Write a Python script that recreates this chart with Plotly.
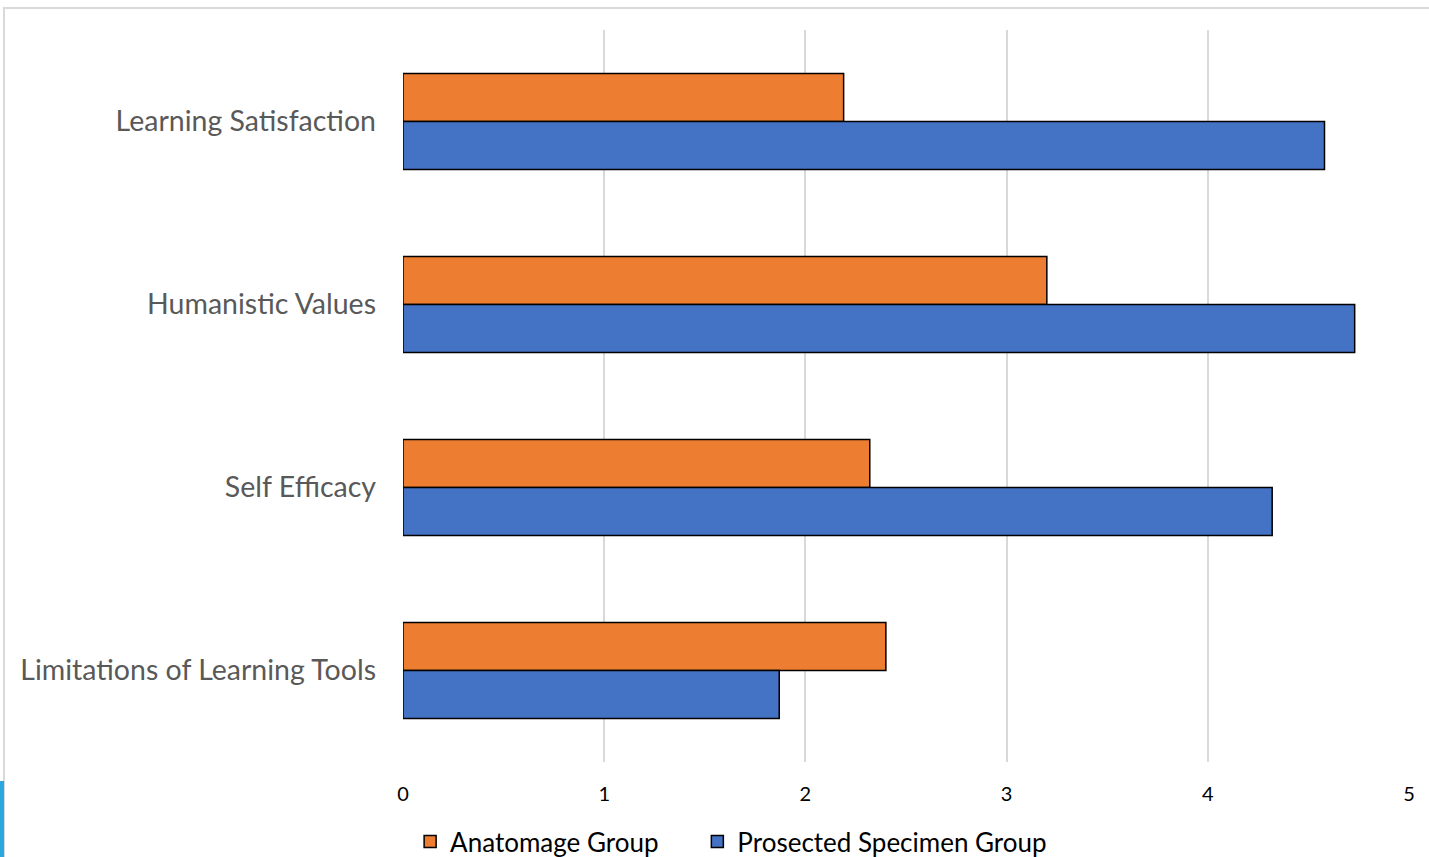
import plotly.graph_objects as go

categories = ["Learning Satisfaction", "Humanistic Values", "Self Efficacy", "Limitations of Learning Tools"]
anatomage = [2.19, 3.20, 2.32, 2.40]
prosected = [4.58, 4.73, 4.32, 1.87]
series_names = ["Anatomage Group", "Prosected Specimen Group"]
x_ticks = [0, 1, 2, 3, 4, 5]

W, H = 1429, 857
ML, MR, MT, MB = 403, 20, 30, 95
PW, PH = W - ML - MR, H - MT - MB

def px_x(p):
    return (p - ML) / PW

def px_y(p):
    return 1 - (p - MT) / PH

fig = go.Figure()
fig.add_trace(go.Bar(y=categories, x=anatomage, orientation="h", name=series_names[0],
                     legend="legend",
                     marker=dict(color="#ED7D31", line=dict(color="#000000", width=1.5))))
fig.add_trace(go.Bar(y=categories, x=prosected, orientation="h", name=series_names[1],
                     legend="legend2",
                     marker=dict(color="#4472C4", line=dict(color="#000000", width=1.5))))

legend_font = dict(family="Lato, Carlito, Calibri, sans-serif", size=26, color="#000000")
fig.update_layout(
    width=W, height=H,
    margin=dict(l=ML, r=MR, t=MT, b=MB),
    paper_bgcolor="white", plot_bgcolor="white",
    barmode="group", bargap=0.475, bargroupgap=0,
    showlegend=True,
    legend=dict(orientation="h", xref="container", yref="container", x=0.287, y=0.018,
                xanchor="left", yanchor="middle", font=legend_font, itemwidth=30,
                bgcolor="rgba(0,0,0,0)"),
    legend2=dict(orientation="h", xref="container", yref="container", x=0.488, y=0.018,
                 xanchor="left", yanchor="middle", font=legend_font, itemwidth=30,
                 bgcolor="rgba(0,0,0,0)"),
    xaxis=dict(range=[0, 5], tickvals=x_ticks, showgrid=True, gridcolor="#d9d9d9", gridwidth=1.5,
               zeroline=False, showline=False, ticks="", ticklabelstandoff=18,
               tickfont=dict(family="Lato, Carlito, Calibri, sans-serif", size=20, color="#000000")),
    yaxis=dict(autorange="reversed", showgrid=False, zeroline=False, showline=False, ticks="",
               ticklabelstandoff=26,
               tickfont=dict(family="Lato, 'Gill Sans', sans-serif", size=28.5, color="#595959")),
    shapes=[
        dict(type="rect", xref="paper", yref="paper",
             x0=px_x(4), x1=px_x(1440), y0=px_y(870), y1=px_y(8),
             line=dict(color="#d9d9d9", width=2), fillcolor="rgba(0,0,0,0)", layer="below"),
        dict(type="rect", xref="paper", yref="paper",
             x0=px_x(-2), x1=px_x(4), y0=px_y(870), y1=px_y(781),
             line=dict(width=0), fillcolor="#29A8E0", layer="below"),
    ],
)

fig.write_html("out.html")
